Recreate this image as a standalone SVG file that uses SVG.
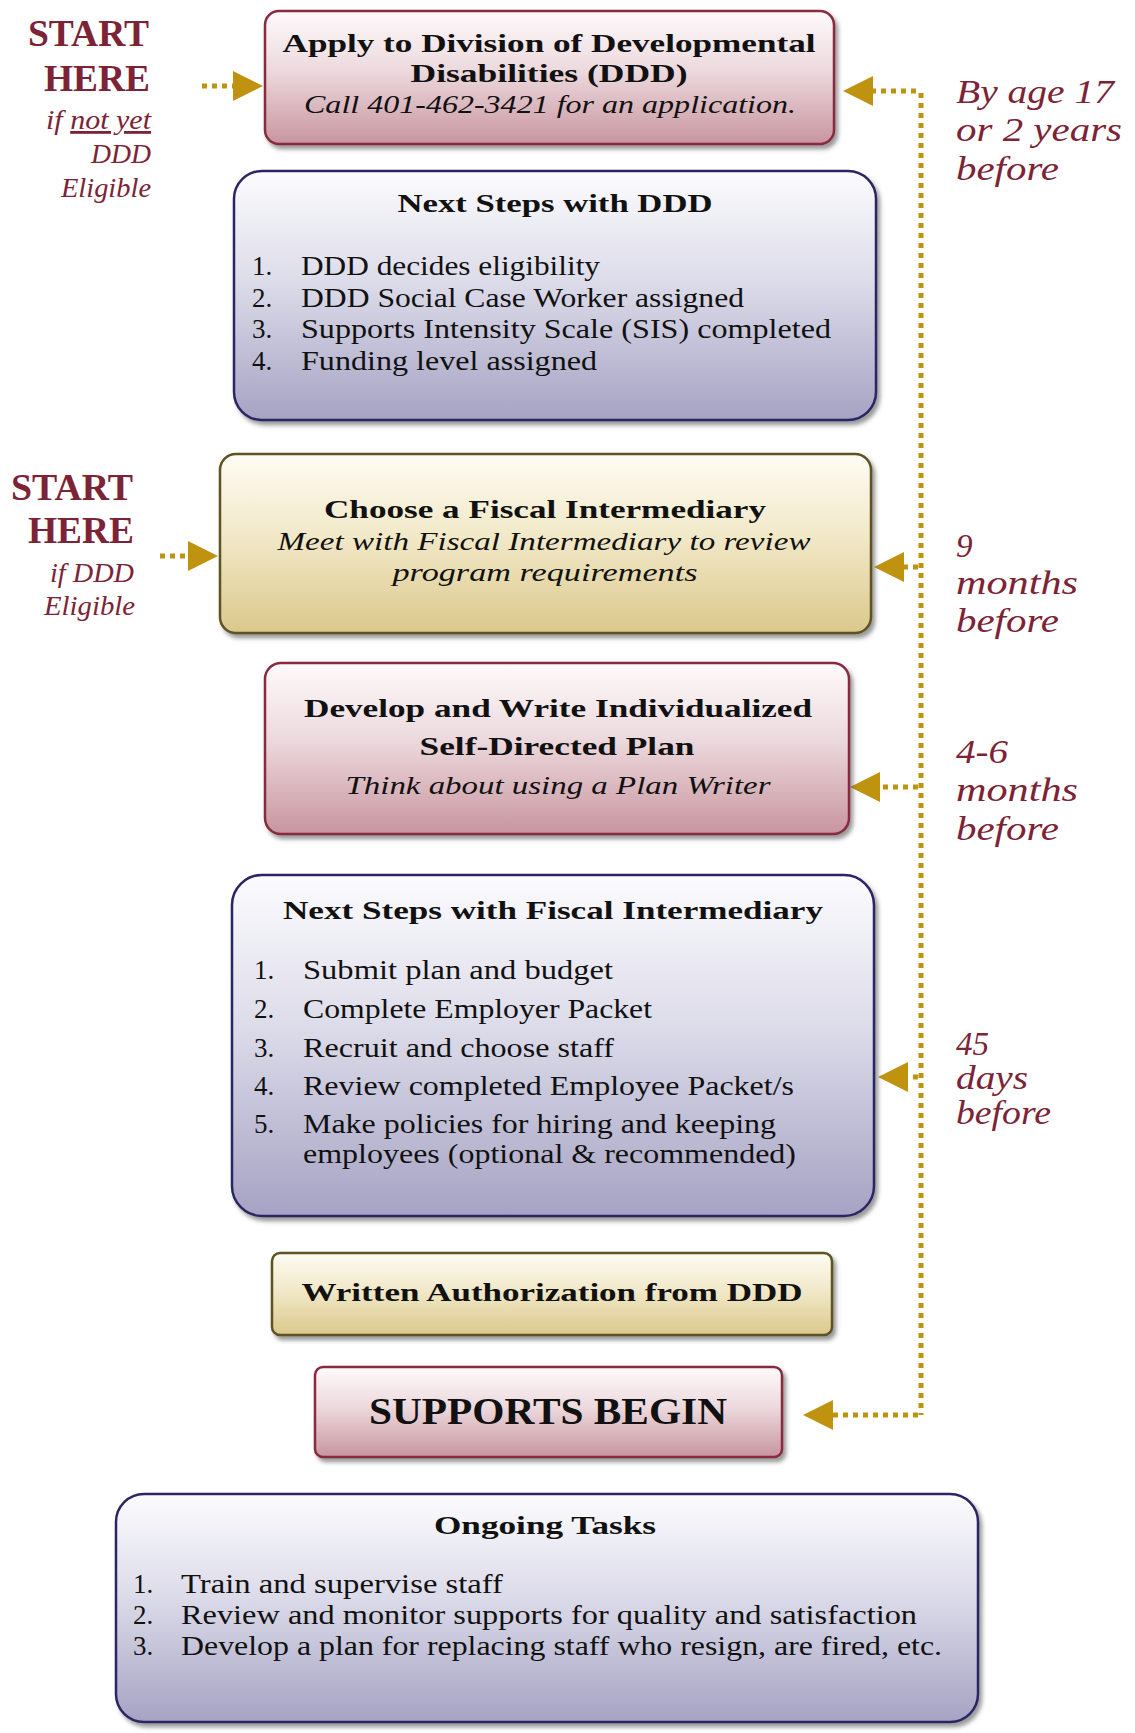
<svg xmlns="http://www.w3.org/2000/svg" width="1135" height="1733" viewBox="0 0 1135 1733">
<defs>
  <linearGradient id="gRed" x1="0" y1="0" x2="0" y2="1">
    <stop offset="0" stop-color="#fefafb"/>
    <stop offset="0.45" stop-color="#ecd9dd"/>
    <stop offset="1" stop-color="#c8959f"/>
  </linearGradient>
  <linearGradient id="gBlue" x1="0" y1="0" x2="0" y2="1">
    <stop offset="0" stop-color="#fcfcfe"/>
    <stop offset="0.45" stop-color="#dcdbe9"/>
    <stop offset="1" stop-color="#a6a2c3"/>
  </linearGradient>
  <linearGradient id="gGold" x1="0" y1="0" x2="0" y2="1">
    <stop offset="0" stop-color="#fefcf4"/>
    <stop offset="0.45" stop-color="#f2e9c9"/>
    <stop offset="1" stop-color="#dac88c"/>
  </linearGradient>
  <filter id="shadow" x="-5%" y="-5%" width="112%" height="115%">
    <feDropShadow dx="3" dy="4" stdDeviation="2" flood-color="#555555" flood-opacity="0.6"/>
  </filter>
  <marker id="arrow" markerUnits="userSpaceOnUse" markerWidth="30" markerHeight="30" viewBox="0 0 30 30" refX="0" refY="15" orient="auto">
    <path d="M0,0 L30,15 L0,30 Z" fill="#bf930f"/>
  </marker>
</defs>
<style>
  .red { fill: url(#gRed); stroke: #8a2b3f; stroke-width: 2.5; filter: url(#shadow); }
  .blue { fill: url(#gBlue); stroke: #2b2866; stroke-width: 2.5; filter: url(#shadow); }
  .gold { fill: url(#gGold); stroke: #5f5322; stroke-width: 2.5; filter: url(#shadow); }
  text { font-family: "Liberation Serif", "DejaVu Serif", serif; fill: #111111; }
  .title { font-weight: bold; font-size: 26px; }
  .ital { font-style: italic; font-size: 26px; }
  .item { font-size: 27px; }
  .num { font-size: 27px; }
  .mar { fill: #7c2336; }
  .start { font-weight: bold; font-size: 37px; }
  .sub { font-style: italic; font-size: 28px; }
  .when { font-style: italic; font-size: 33px; }
  .dot { fill: none; stroke: #bf930f; stroke-width: 5; stroke-dasharray: 5 5; }
</style>

<g id="connectors">
  <path class="dot" d="M202,86 H233" marker-end="url(#arrow)"/>
  <path class="dot" d="M160,556 H188" marker-end="url(#arrow)"/>
  <path class="dot" d="M921,93 V1415"/>
  <path class="dot" d="M916,91 H873" marker-end="url(#arrow)"/>
  <path class="dot" d="M918,567 H904" marker-end="url(#arrow)"/>
  <path class="dot" d="M918,787 H880" marker-end="url(#arrow)"/>
  <path class="dot" d="M918,1077 H908" marker-end="url(#arrow)"/>
  <path class="dot" d="M918,1415 H833" marker-end="url(#arrow)"/>
</g>

<g id="start-label-1">
  <text class="start mar" x="28" y="46" textLength="121" lengthAdjust="spacingAndGlyphs">START</text>
  <text class="start mar" x="44" y="91" textLength="106" lengthAdjust="spacingAndGlyphs">HERE</text>
  <text class="sub mar" x="46" y="129" textLength="105" lengthAdjust="spacingAndGlyphs">if <tspan text-decoration="underline">not yet</tspan></text>
  <text class="sub mar" x="91" y="163" textLength="60" lengthAdjust="spacingAndGlyphs">DDD</text>
  <text class="sub mar" x="61" y="197" textLength="90" lengthAdjust="spacingAndGlyphs">Eligible</text>
</g>

<g id="start-label-2">
  <text class="start mar" x="11" y="500" textLength="122" lengthAdjust="spacingAndGlyphs">START</text>
  <text class="start mar" x="28" y="543" textLength="106" lengthAdjust="spacingAndGlyphs">HERE</text>
  <text class="sub mar" x="50" y="582" textLength="84" lengthAdjust="spacingAndGlyphs">if DDD</text>
  <text class="sub mar" x="44" y="615" textLength="91" lengthAdjust="spacingAndGlyphs">Eligible</text>
</g>

<g id="time-labels">
  <text class="when mar" x="956" y="103" textLength="158" lengthAdjust="spacingAndGlyphs">By age 17</text>
  <text class="when mar" x="956" y="141" textLength="166" lengthAdjust="spacingAndGlyphs">or 2 years</text>
  <text class="when mar" x="956" y="180" textLength="103" lengthAdjust="spacingAndGlyphs">before</text>
  <text class="when mar" x="956" y="557">9</text>
  <text class="when mar" x="956" y="594" textLength="122" lengthAdjust="spacingAndGlyphs">months</text>
  <text class="when mar" x="956" y="632" textLength="103" lengthAdjust="spacingAndGlyphs">before</text>
  <text class="when mar" x="956" y="763" textLength="52" lengthAdjust="spacingAndGlyphs">4-6</text>
  <text class="when mar" x="956" y="801" textLength="122" lengthAdjust="spacingAndGlyphs">months</text>
  <text class="when mar" x="956" y="840" textLength="103" lengthAdjust="spacingAndGlyphs">before</text>
  <text class="when mar" x="956" y="1055" textLength="33" lengthAdjust="spacingAndGlyphs">45</text>
  <text class="when mar" x="956" y="1089" textLength="72" lengthAdjust="spacingAndGlyphs">days</text>
  <text class="when mar" x="956" y="1124" textLength="95" lengthAdjust="spacingAndGlyphs">before</text>
</g>

<g id="apply-ddd">
  <rect class="red" x="265" y="11" width="569" height="133" rx="14"/>
  <text class="title" x="549" y="52" text-anchor="middle" textLength="533" lengthAdjust="spacingAndGlyphs">Apply to Division of Developmental</text>
  <text class="title" x="549" y="82" text-anchor="middle" textLength="277" lengthAdjust="spacingAndGlyphs">Disabilities (DDD)</text>
  <text class="ital" x="550" y="113" text-anchor="middle" textLength="492" lengthAdjust="spacingAndGlyphs">Call 401-462-3421 for an application.</text>
</g>

<g id="next-steps-ddd">
  <rect class="blue" x="234" y="171" width="642" height="249" rx="28"/>
  <text class="title" x="555" y="212" text-anchor="middle" textLength="315" lengthAdjust="spacingAndGlyphs">Next Steps with DDD</text>
  <text class="num" x="252" y="275">1.</text>
  <text class="item" x="301" y="275" textLength="299" lengthAdjust="spacingAndGlyphs">DDD decides eligibility</text>
  <text class="num" x="252" y="307">2.</text>
  <text class="item" x="301" y="307" textLength="443" lengthAdjust="spacingAndGlyphs">DDD Social Case Worker assigned</text>
  <text class="num" x="252" y="338">3.</text>
  <text class="item" x="301" y="338" textLength="530" lengthAdjust="spacingAndGlyphs">Supports Intensity Scale (SIS) completed</text>
  <text class="num" x="252" y="370">4.</text>
  <text class="item" x="301" y="370" textLength="296" lengthAdjust="spacingAndGlyphs">Funding level assigned</text>
</g>

<g id="choose-fi">
  <rect class="gold" x="220" y="454" width="651" height="179" rx="16"/>
  <text class="title" x="545" y="518" text-anchor="middle" textLength="442" lengthAdjust="spacingAndGlyphs">Choose a Fiscal Intermediary</text>
  <text class="ital" x="544" y="550" text-anchor="middle" textLength="533" lengthAdjust="spacingAndGlyphs">Meet with Fiscal Intermediary to review</text>
  <text class="ital" x="545" y="581" text-anchor="middle" textLength="305" lengthAdjust="spacingAndGlyphs">program requirements</text>
</g>

<g id="develop-plan">
  <rect class="red" x="265" y="663" width="584" height="171" rx="16"/>
  <text class="title" x="558" y="717" text-anchor="middle" textLength="508" lengthAdjust="spacingAndGlyphs">Develop and Write Individualized</text>
  <text class="title" x="557" y="755" text-anchor="middle" textLength="275" lengthAdjust="spacingAndGlyphs">Self-Directed Plan</text>
  <text class="ital" x="558" y="794" text-anchor="middle" textLength="425" lengthAdjust="spacingAndGlyphs">Think about using a Plan Writer</text>
</g>

<g id="next-steps-fi">
  <rect class="blue" x="232" y="875" width="642" height="341" rx="30"/>
  <text class="title" x="553" y="919" text-anchor="middle" textLength="540" lengthAdjust="spacingAndGlyphs">Next Steps with Fiscal Intermediary</text>
  <text class="num" x="254" y="979">1.</text>
  <text class="item" x="303" y="979" textLength="310" lengthAdjust="spacingAndGlyphs">Submit plan and budget</text>
  <text class="num" x="254" y="1018">2.</text>
  <text class="item" x="303" y="1018" textLength="349" lengthAdjust="spacingAndGlyphs">Complete Employer Packet</text>
  <text class="num" x="254" y="1057">3.</text>
  <text class="item" x="303" y="1057" textLength="311" lengthAdjust="spacingAndGlyphs">Recruit and choose staff</text>
  <text class="num" x="254" y="1095">4.</text>
  <text class="item" x="303" y="1095" textLength="491" lengthAdjust="spacingAndGlyphs">Review completed Employee Packet/s</text>
  <text class="num" x="254" y="1133">5.</text>
  <text class="item" x="303" y="1133" textLength="473" lengthAdjust="spacingAndGlyphs">Make policies for hiring and keeping</text>
  <text class="item" x="303" y="1163" textLength="493" lengthAdjust="spacingAndGlyphs">employees (optional &amp; recommended)</text>
</g>

<g id="written-auth">
  <rect class="gold" x="272" y="1253" width="560" height="82" rx="8"/>
  <text class="title" x="552" y="1301" text-anchor="middle" textLength="501" lengthAdjust="spacingAndGlyphs">Written Authorization from DDD</text>
</g>

<g id="supports-begin">
  <rect class="red" x="315" y="1367" width="467" height="90" rx="8"/>
  <text class="title" x="548" y="1424" text-anchor="middle" style="font-size:38px" textLength="358" lengthAdjust="spacingAndGlyphs">SUPPORTS BEGIN</text>
</g>

<g id="ongoing-tasks">
  <rect class="blue" x="116" y="1494" width="862" height="228" rx="28"/>
  <text class="title" x="545" y="1534" text-anchor="middle" textLength="222" lengthAdjust="spacingAndGlyphs">Ongoing Tasks</text>
  <text class="num" x="133" y="1593">1.</text>
  <text class="item" x="181" y="1593" textLength="322" lengthAdjust="spacingAndGlyphs">Train and supervise staff</text>
  <text class="num" x="133" y="1624">2.</text>
  <text class="item" x="181" y="1624" textLength="736" lengthAdjust="spacingAndGlyphs">Review and monitor supports for quality and satisfaction</text>
  <text class="num" x="133" y="1655">3.</text>
  <text class="item" x="181" y="1655" textLength="761" lengthAdjust="spacingAndGlyphs">Develop a plan for replacing staff who resign, are fired, etc.</text>
</g>
</svg>
